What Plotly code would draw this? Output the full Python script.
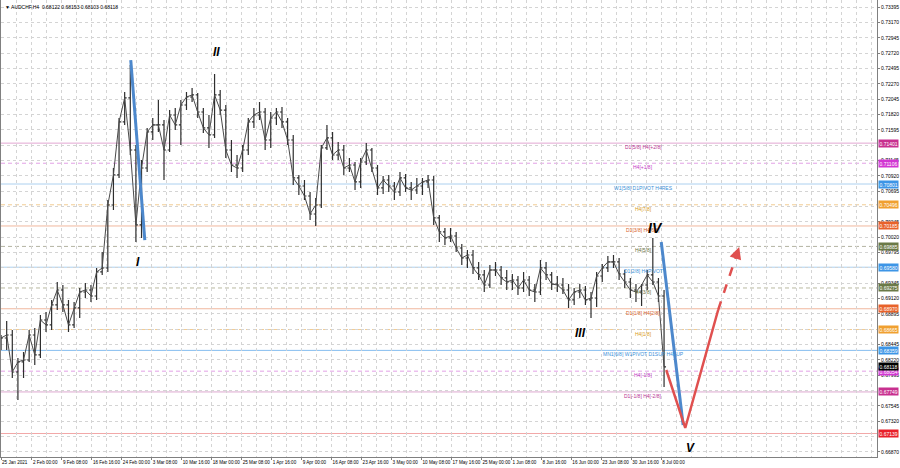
import numpy as np
import pandas as pd
import plotly.graph_objects as go

# ---------------- data ----------------
symbol_title = "AUDCHF,H4  0.68122 0.68153 0.68103 0.68118"

day_dates = pd.bdate_range("2021-01-25", "2021-07-08")

opens = [0.68483, 0.68541, 0.68585, 0.68042, 0.68189, 0.68218, 0.68585, 0.68292, 0.68805, 0.68732,
         0.69026, 0.69245, 0.69026, 0.68732, 0.68982, 0.69216, 0.69245, 0.69157, 0.69510, 0.69568,
         0.70493, 0.70934, 0.71712, 0.72064, 0.71300, 0.70200, 0.71036, 0.71565, 0.71668, 0.71668,
         0.71300, 0.71814, 0.71668, 0.71961, 0.72078, 0.72108, 0.71858, 0.71624, 0.71521, 0.72108,
         0.71887, 0.71300, 0.71080, 0.71036, 0.71300, 0.71712, 0.71814, 0.71858, 0.71447, 0.71770,
         0.71858, 0.71712, 0.71447, 0.70890, 0.70772, 0.70625, 0.70361, 0.70493, 0.71330, 0.71477,
         0.71227, 0.71300, 0.71036, 0.71080, 0.70831, 0.71124, 0.71300, 0.71036, 0.70743, 0.70860,
         0.70772, 0.70684, 0.70890, 0.70743, 0.70713, 0.70772, 0.70831, 0.70860, 0.70303, 0.70097,
         0.70009, 0.70038, 0.69862, 0.69715, 0.69759, 0.69569, 0.69466, 0.69319, 0.69539, 0.69539,
         0.69422, 0.69363, 0.69392, 0.69275, 0.69392, 0.69245, 0.69216, 0.69569, 0.69466, 0.69333,
         0.69319, 0.69245, 0.69099, 0.69216, 0.69245, 0.69099, 0.69128, 0.69451, 0.69569, 0.69657,
         0.69657, 0.69480, 0.69363, 0.69245, 0.69216, 0.69319, 0.69466, 0.69363, 0.69157]
highs = [0.68585, 0.68790, 0.68658, 0.68247, 0.68336, 0.68658, 0.68687, 0.68879, 0.68923, 0.69099,
         0.69363, 0.69319, 0.69099, 0.69070, 0.69274, 0.69348, 0.69319, 0.69568, 0.69803, 0.70566,
         0.71036, 0.71770, 0.72152, 0.72548, 0.71374, 0.71153, 0.71624, 0.71770, 0.72034, 0.71741,
         0.71887, 0.71917, 0.72034, 0.72152, 0.72211, 0.72137, 0.71917, 0.71814, 0.72416, 0.72181,
         0.71961, 0.71447, 0.71227, 0.71374, 0.71770, 0.71917, 0.72005, 0.71917, 0.71858, 0.71917,
         0.71931, 0.71770, 0.71521, 0.70934, 0.70860, 0.70684, 0.70596, 0.71374, 0.71668, 0.71565,
         0.71418, 0.71374, 0.71183, 0.71124, 0.71183, 0.71403, 0.71330, 0.71080, 0.70919, 0.70934,
         0.70831, 0.70978, 0.70948, 0.70831, 0.70890, 0.70890, 0.70934, 0.70919, 0.70347, 0.70156,
         0.70156, 0.70097, 0.69920, 0.69832, 0.69832, 0.69657, 0.69539, 0.69613, 0.69657, 0.69598,
         0.69539, 0.69480, 0.69451, 0.69510, 0.69451, 0.69333, 0.69686, 0.69657, 0.69510, 0.69451,
         0.69422, 0.69333, 0.69275, 0.69333, 0.69304, 0.69216, 0.69510, 0.69627, 0.69744, 0.69759,
         0.69715, 0.69539, 0.69422, 0.69333, 0.69333, 0.69539, 0.70009, 0.69422, 0.69245]
lows = [0.68365, 0.68365, 0.67953, 0.67631, 0.67953, 0.68189, 0.68145, 0.68247, 0.68629, 0.68658,
        0.68952, 0.68923, 0.68629, 0.68687, 0.68835, 0.69128, 0.69070, 0.69099, 0.69466, 0.69510,
        0.70420, 0.70890, 0.71668, 0.71227, 0.69950, 0.70009, 0.70978, 0.71447, 0.71565, 0.70860,
        0.71271, 0.71594, 0.71374, 0.71887, 0.72005, 0.71770, 0.71550, 0.71330, 0.71477, 0.71814,
        0.71183, 0.70978, 0.70890, 0.70978, 0.71227, 0.71624, 0.71741, 0.71300, 0.71330, 0.71668,
        0.71624, 0.71374, 0.70787, 0.70640, 0.70566, 0.70273, 0.70185, 0.70449, 0.71300, 0.71153,
        0.71153, 0.70934, 0.70978, 0.70713, 0.70743, 0.71080, 0.70978, 0.70640, 0.70654, 0.70684,
        0.70566, 0.70625, 0.70684, 0.70566, 0.70654, 0.70640, 0.70743, 0.70200, 0.69950, 0.69906,
        0.69950, 0.69803, 0.69613, 0.69569, 0.69480, 0.69392, 0.69216, 0.69275, 0.69451, 0.69319,
        0.69245, 0.69245, 0.69172, 0.69216, 0.69157, 0.69070, 0.69172, 0.69392, 0.69245, 0.69216,
        0.69186, 0.68982, 0.69026, 0.69128, 0.69026, 0.68835, 0.68996, 0.69363, 0.69510, 0.69569,
        0.69392, 0.69275, 0.69128, 0.69070, 0.69011, 0.69245, 0.69319, 0.69070, 0.67821]
closes = [0.68541, 0.68585, 0.68042, 0.68189, 0.68218, 0.68585, 0.68292, 0.68805, 0.68732, 0.69026,
          0.69245, 0.69026, 0.68732, 0.68982, 0.69216, 0.69245, 0.69157, 0.69510, 0.69568, 0.70493,
          0.70934, 0.71712, 0.72064, 0.71300, 0.70200, 0.71036, 0.71565, 0.71668, 0.71668, 0.71300,
          0.71814, 0.71668, 0.71961, 0.72078, 0.72108, 0.71858, 0.71624, 0.71521, 0.72108, 0.71887,
          0.71300, 0.71080, 0.71036, 0.71300, 0.71712, 0.71814, 0.71858, 0.71447, 0.71770, 0.71858,
          0.71712, 0.71447, 0.70890, 0.70772, 0.70625, 0.70361, 0.70493, 0.71330, 0.71477, 0.71227,
          0.71300, 0.71036, 0.71080, 0.70831, 0.71124, 0.71300, 0.71036, 0.70743, 0.70860, 0.70772,
          0.70684, 0.70890, 0.70743, 0.70713, 0.70772, 0.70831, 0.70860, 0.70303, 0.70097, 0.70009,
          0.70038, 0.69862, 0.69715, 0.69759, 0.69569, 0.69466, 0.69319, 0.69539, 0.69539, 0.69422,
          0.69363, 0.69392, 0.69275, 0.69392, 0.69245, 0.69216, 0.69569, 0.69466, 0.69333, 0.69319,
          0.69245, 0.69099, 0.69216, 0.69245, 0.69099, 0.69128, 0.69451, 0.69569, 0.69657, 0.69657,
          0.69480, 0.69363, 0.69245, 0.69216, 0.69319, 0.69466, 0.69363, 0.69157, 0.68118]

last_price = 0.68118

# Murrey / pivot levels
level_values = [0.71401, 0.71106, 0.70801, 0.70496, 0.70185, 0.69885, 0.69580,
                0.69275, 0.68970, 0.68665, 0.68359, 0.68054, 0.67749, 0.67139]
level_names = ["D1[5/8] H4[+2/8]", "H4[+1/8]", "W1[5/8] D1PIVOT H4RES", "H4[7/8]",
               "D1[3/8] H4[6/8]", "H4[5/8]", "D1[2/8] H4PIVOT", "H4[3/8]",
               "D1[1/8] H4[2/8]", "H4[1/8]", "MN1[6/8] W1PIVOT D1SUP H4SUP",
               "H4[-1/8]", "D1[-1/8] H4[-2/8]", ""]

# price-axis tick labels shown (those hidden behind level tags are omitted, as in the terminal)
y_tick_values = [0.73395, 0.73170, 0.72945, 0.72720, 0.72495, 0.72270, 0.72045, 0.71820,
                 0.71595, 0.71145, 0.70920, 0.70695, 0.70245, 0.70020, 0.69795, 0.69345,
                 0.69120, 0.68895, 0.68445, 0.68220, 0.67995, 0.67545, 0.67320, 0.66870]

# time-axis tick labels
tick_dates = ["2021-01-25 12:00", "2021-02-02 00:00", "2021-02-09 08:00", "2021-02-16 16:00",
              "2021-02-24 00:00", "2021-03-03 08:00", "2021-03-10 16:00", "2021-03-18 00:00",
              "2021-03-25 08:00", "2021-04-01 16:00", "2021-04-09 00:00", "2021-04-16 08:00",
              "2021-04-23 16:00", "2021-05-03 00:00", "2021-05-10 08:00", "2021-05-17 16:00",
              "2021-05-25 00:00", "2021-06-01 08:00", "2021-06-08 16:00", "2021-06-16 00:00",
              "2021-06-23 08:00", "2021-06-30 16:00", "2021-07-08 00:00"]
tick_texts = ["25 Jan 2021", "2 Feb 00:00", "9 Feb 08:00", "16 Feb 16:00", "24 Feb 00:00",
              "3 Mar 08:00", "10 Mar 16:00", "18 Mar 00:00", "25 Mar 08:00", "1 Apr 16:00",
              "9 Apr 00:00", "16 Apr 08:00", "23 Apr 16:00", "3 May 00:00", "10 May 08:00",
              "17 May 16:00", "25 May 00:00", "1 Jun 08:00", "8 Jun 16:00", "16 Jun 00:00",
              "23 Jun 08:00", "30 Jun 16:00", "8 Jul 00:00"]

# wave drawings (analyst trendlines)
blue1_times = ["2021-02-25 14:00", "2021-03-02 02:00"]
blue1_prices = [0.72621, 0.69979]
blue2_times = ["2021-07-08 00:00", "2021-07-13 21:30"]
blue2_prices = [0.69950, 0.67264]
red_times = ["2021-07-08 21:30", "2021-07-14 06:30", "2021-07-22 03:00"]
red_prices = [0.68071, 0.67220, 0.68952]
red_dash_times = ["2021-07-22 03:00", "2021-07-27 21:00"]
red_dash_prices = [0.68952, 0.69876]

wave_names = ["I", "II", "III", "IV", "V"]
wave_times = ["2021-02-26 20:00", "2021-03-18 21:00", "2021-06-17 14:00", "2021-07-06 21:30", "2021-07-15 04:00"]
wave_prices = [0.69657, 0.72739, 0.68614, 0.70156, 0.66926]

# ---------------- helpers ----------------
START = np.datetime64("2021-01-25")


def tpos(s):
    ts = pd.Timestamp(s)
    d = int(np.busday_count(START, np.datetime64(ts.date())))
    return d + (ts.hour + ts.minute / 60.0) / 24.0


x_days = [tpos(d) + 0.5 for d in day_dates]

# styles: line colour, dash, axis-label background, text colour
line_styles = [
    ("#e2a6d2", "solid", "#c8308f", "#b83292"),
    ("#e2a0e6", "dash", "#d236d2", "#c438c4"),
    ("#acd0ef", "solid", "#3d95e6", "#3a8fd8"),
    ("#f2cc93", "dash", "#f0a030", "#d99a22"),
    ("#f0b79e", "solid", "#e8622a", "#d8622a"),
    ("#b4b4a2", "dash", "#6b7a47", "#6b7040"),
    ("#acd0ef", "solid", "#3d95e6", "#3a8fd8"),
    ("#b9b9a0", "dash", "#6b7a47", "#6b7040"),
    ("#f0b79e", "solid", "#e8622a", "#d8622a"),
    ("#f2cc93", "dash", "#f0a030", "#d99a22"),
    ("#86bdf0", "solid", "#3d95e6", "#3a8fd8"),
    ("#e2a0e6", "dash", "#d236d2", "#c438c4"),
    ("#dca8cf", "solid", "#c8308f", "#b83292"),
    ("#f2a8a8", "solid", "#e8202a", "#e8202a"),
]

fig = go.Figure()

# horizontal levels
for v, (lc, dash, bg, tc), name in zip(level_values, line_styles, level_names):
    fig.add_shape(type="line", xref="paper", x0=0, x1=1, yref="y", y0=v, y1=v,
                  line=dict(color=lc, width=1, dash="4px,3px" if dash == "dash" else "solid"),
                  layer="below")
    if name:
        fig.add_annotation(xref="paper", x=0.733, yref="y", y=v, text=name, showarrow=False,
                           xanchor="center", yanchor="top", yshift=1,
                           font=dict(size=5, color=tc, family="Liberation Sans"))
    fig.add_annotation(xref="paper", x=1, yref="y", y=v, text=f"{v:.5f}", showarrow=False,
                       xanchor="left", yanchor="middle", xshift=1, bgcolor=bg, borderpad=0.5,
                       font=dict(size=5, color="white", family="Liberation Sans"))

fig.add_annotation(xref="paper", x=1, yref="y", y=last_price, text=f"{last_price:.5f}", showarrow=False,
                   xanchor="left", yanchor="middle", xshift=1, bgcolor="#000000", borderpad=0.5,
                   font=dict(size=5, color="white", family="Liberation Sans"))

# price bars
fig.add_trace(go.Scatter(x=x_days, y=closes, mode="lines",
                         line=dict(color="#4a4a4a", width=1), hoverinfo="skip"))
fig.add_trace(go.Ohlc(x=x_days, open=opens, high=highs, low=lows, close=closes,
                      increasing=dict(line=dict(color="#2e2e2e", width=1.2)),
                      decreasing=dict(line=dict(color="#2e2e2e", width=1.2)),
                      tickwidth=0.35))

# analyst drawings
fig.add_trace(go.Scatter(x=[tpos(t) for t in blue1_times], y=blue1_prices, mode="lines",
                         line=dict(color="#4d88cc", width=3)))
fig.add_trace(go.Scatter(x=[tpos(t) for t in blue2_times], y=blue2_prices, mode="lines",
                         line=dict(color="#4d88cc", width=3)))
fig.add_trace(go.Scatter(x=[tpos(t) for t in red_times], y=red_prices, mode="lines",
                         line=dict(color="#e0504f", width=2.5)))
rdx = [tpos(t) for t in red_dash_times]
fig.add_trace(go.Scatter(x=rdx, y=red_dash_prices, mode="lines",
                         line=dict(color="#e0504f", width=2.5, dash="dash")))
fig.add_annotation(x=rdx[1], y=red_dash_prices[1], xref="x", yref="y",
                   ax=rdx[1] - 0.15 * (rdx[1] - rdx[0]),
                   ay=red_dash_prices[1] - 0.15 * (red_dash_prices[1] - red_dash_prices[0]),
                   axref="x", ayref="y", text="", showarrow=True, arrowhead=2,
                   arrowsize=1.2, arrowwidth=2, arrowcolor="#e0504f")

# wave labels
for name, t, p in zip(wave_names, wave_times, wave_prices):
    big = name == "IV"
    fig.add_annotation(x=tpos(t), y=p, xref="x", yref="y",
                       text=f"<i><b>{name}</b></i>",
                       showarrow=False, xanchor="center", yanchor="middle",
                       font=dict(size=14 if big else 12, color="#000000", family="Liberation Sans"))

# title
fig.add_annotation(xref="paper", yref="paper", x=0.002, y=1, xanchor="left", yanchor="top", yshift=-2,
                   text="\u25BC " + symbol_title, showarrow=False,
                   font=dict(size=5, color="#000000", family="Liberation Sans"))

fig.update_layout(
    width=900, height=468,
    margin=dict(l=1, r=23, t=0, b=11, autoexpand=False),
    paper_bgcolor="white", plot_bgcolor="white",
    showlegend=False,
    xaxis=dict(
        range=[0.489, 156.4],
        tickmode="array",
        tickvals=[tpos(t) for t in tick_dates],
        ticktext=tick_texts,
        tickangle=0,
        automargin=False,
        ticklabelposition="outside right",
        tickfont=dict(size=4.6, color="#000000", family="Liberation Sans"),
        ticks="outside", ticklen=2, tickcolor="#808080",
        showgrid=True, gridcolor="#d4d4d4", griddash="dot", gridwidth=1,
        minor=dict(tickmode="linear", tick0=tpos("2021-02-02 00:00"), dtick=8 / 3,
                   showgrid=True, gridcolor="#d4d4d4", griddash="dot", ticklen=0),
        showline=True, linecolor="#808080", linewidth=1,
        zeroline=False,
        rangeslider=dict(visible=False),
    ),
    yaxis=dict(
        side="right",
        range=[0.66794, 0.73502],
        tickmode="array", tickvals=y_tick_values,
        tickformat=".5f",
        automargin=False,
        tickfont=dict(size=5, color="#000000", family="Liberation Sans"),
        ticks="outside", ticklen=2, tickcolor="#808080",
        showgrid=True, gridcolor="#d4d4d4", griddash="dot", gridwidth=1,
        minor=dict(tickmode="linear", tick0=0.66870, dtick=0.00225,
                   showgrid=True, gridcolor="#d4d4d4", griddash="dot", ticklen=0),
        showline=True, linecolor="#808080", linewidth=1, mirror=True,
        zeroline=False,
    ),
)

fig.write_html("out.html", config={"displayModeBar": False},
               post_script="document.body.style.margin='0px';document.body.style.overflow='hidden';")
